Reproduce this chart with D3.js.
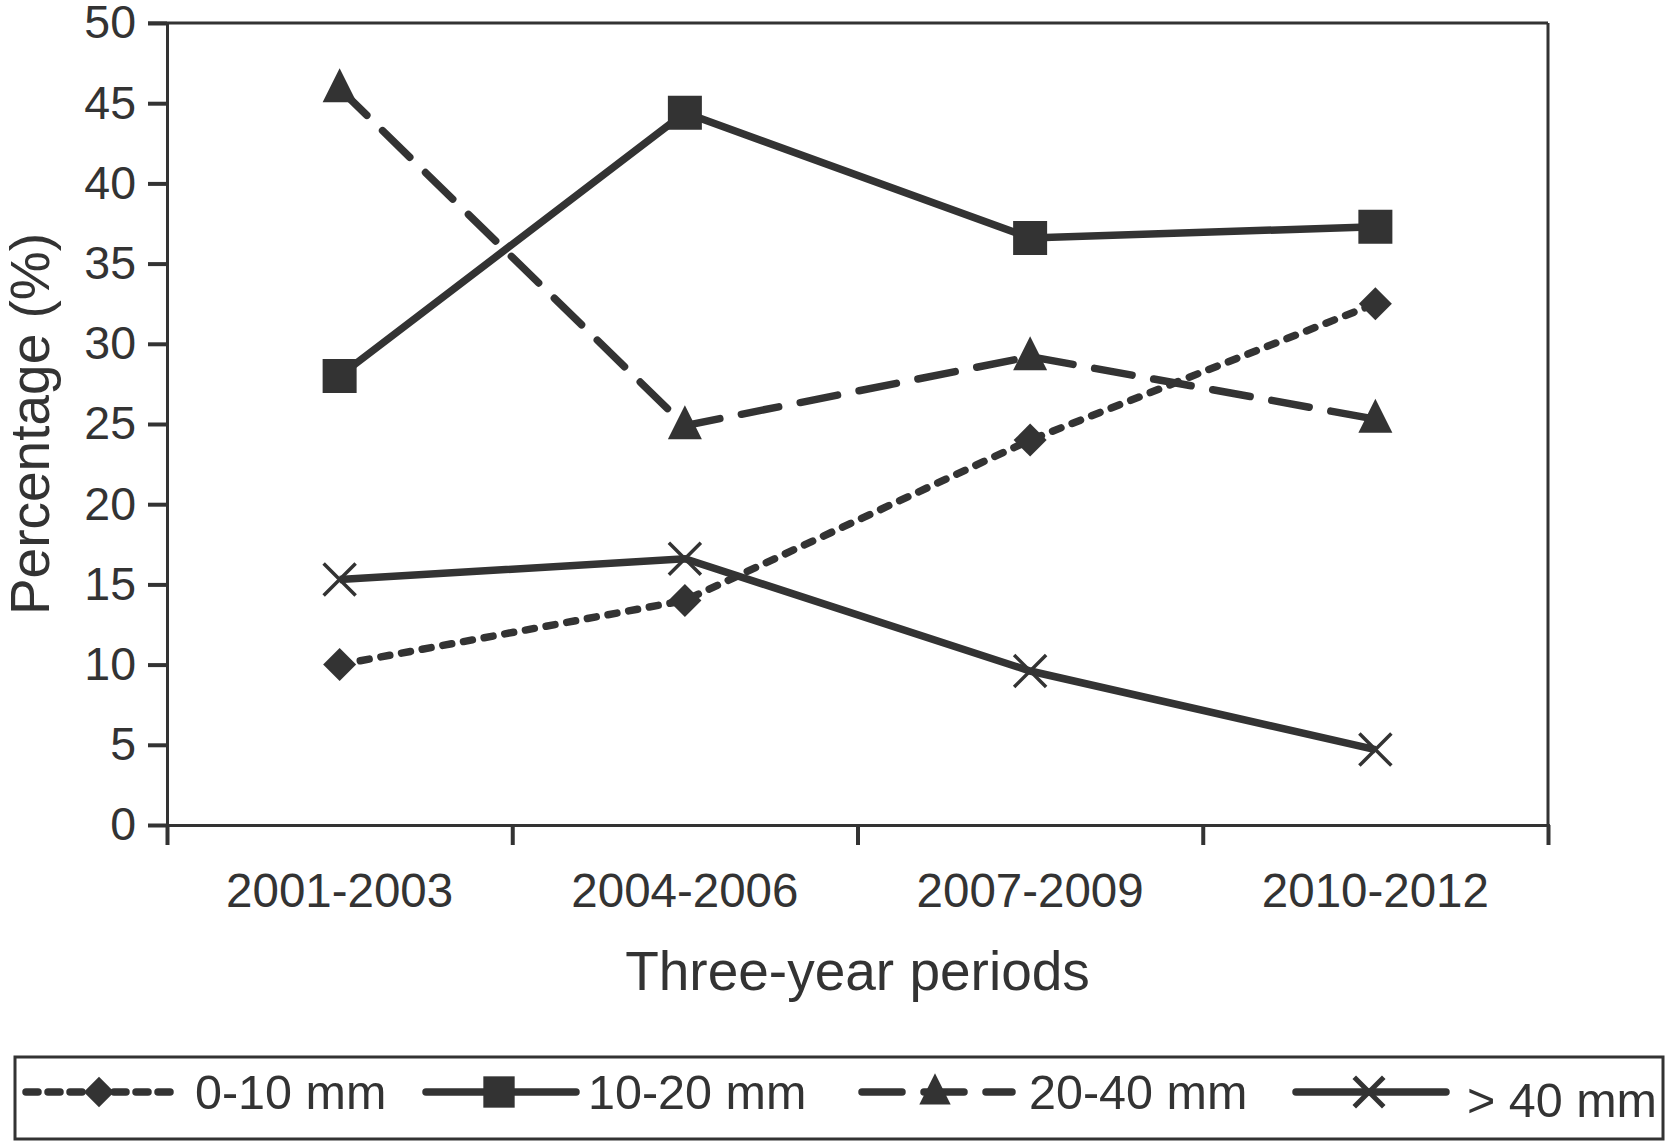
<!DOCTYPE html>
<html>
<head>
<meta charset="utf-8">
<script src="https://cdn.jsdelivr.net/npm/d3@7"></script>
<style>
  body { margin: 0; background: #fff; }
  text { font-family: "Liberation Sans", Arial, sans-serif; fill: #333; }
</style>
</head>
<body>
<svg id="chart"></svg>
<script>
// periods on the x axis
var periods = ["2001-2003", "2004-2006", "2007-2009", "2010-2012"];

// series values (%)
var mm0to10 = [10, 14, 24, 32.5];
var mm10to20 = [28, 44.4, 36.6, 37.3];
var mm20to40 = [45.9, 24.9, 29.2, 25.3];
var mmOver40 = [15.3, 16.6, 9.6, 4.7];

var seriesNames = ["0-10 mm", "10-20 mm", "20-40 mm", "> 40 mm"];
var yTicks = [0, 5, 10, 15, 20, 25, 30, 35, 40, 45, 50];

var width = 1667, height = 1142;
var ink = "#333";

var svg = d3.select("#chart")
    .attr("width", width)
    .attr("height", height);

// plot area
var plotLeft = 167, plotRight = 1548, plotTop = 23, plotBottom = 825;

var x = d3.scaleBand()
    .domain(periods)
    .range([plotLeft, plotRight]);

var y = d3.scaleLinear()
    .domain([0, 50])
    .range([plotBottom, plotTop]);

// custom marker shapes
var diamond = {
    draw: function (ctx, size) {
        var r = Math.sqrt(size) / 2;
        ctx.moveTo(0, -r); ctx.lineTo(r, 0); ctx.lineTo(0, r); ctx.lineTo(-r, 0); ctx.closePath();
    }
};
var triangle = {
    draw: function (ctx, size) {
        var h = Math.sqrt(size) / 2;
        ctx.moveTo(0, -h * 1.2); ctx.lineTo(h, h * 0.8); ctx.lineTo(-h, h * 0.8); ctx.closePath();
    }
};
var cross = {
    draw: function (ctx, size) {
        var h = Math.sqrt(size) / 2;
        ctx.moveTo(-h, -h); ctx.lineTo(h, h);
        ctx.moveTo(-h, h); ctx.lineTo(h, -h);
    }
};

var series = [
    { name: seriesNames[0], values: mm0to10, dash: "9,12", legendDash: "12,10", symbol: diamond, size: 33 * 33, filled: true },
    { name: seriesNames[1], values: mm10to20, dash: null, legendDash: null, symbol: d3.symbolSquare, size: 34 * 34, filled: true },
    { name: seriesNames[2], values: mm20to40, dash: "38,22", legendDash: "40,22", symbol: triangle, size: 34 * 34, filled: true },
    { name: seriesNames[3], values: mmOver40, dash: null, legendDash: null, symbol: cross, size: 32 * 32, filled: false }
];

// y axis
var yAxis = svg.append("g")
    .attr("transform", "translate(" + plotLeft + ",0)")
    .call(d3.axisLeft(y).tickValues(yTicks).tickSize(19).tickPadding(12));
yAxis.select(".domain").attr("stroke", ink).attr("stroke-width", 3);
yAxis.selectAll(".tick line").attr("stroke", ink).attr("stroke-width", 4);
yAxis.selectAll(".tick text")
    .style("font-size", "46.5px")
    .style("font-family", "Liberation Sans, Arial, sans-serif")
    .attr("fill", ink);

// x axis: boundary ticks
var xb = d3.scaleLinear().domain([0, periods.length]).range([plotLeft, plotRight]);
var xTickAxis = svg.append("g")
    .attr("transform", "translate(0," + plotBottom + ")")
    .call(d3.axisBottom(xb).tickValues(d3.range(periods.length + 1)).tickSize(20).tickFormat(""));
xTickAxis.select(".domain").attr("stroke", ink).attr("stroke-width", 3);
xTickAxis.selectAll(".tick line").attr("stroke", ink).attr("stroke-width", 4);

// x axis: labels
var xLabels = svg.append("g")
    .attr("transform", "translate(0," + plotBottom + ")")
    .call(d3.axisBottom(x).tickSize(0));
xLabels.select(".domain").remove();
xLabels.selectAll(".tick text")
    .attr("y", 82)
    .attr("dy", null)
    .style("font-size", "47.5px")
    .style("font-family", "Liberation Sans, Arial, sans-serif")
    .attr("fill", ink);

// top and right frame
svg.append("line")
    .attr("x1", plotLeft - 19).attr("x2", plotRight)
    .attr("y1", y(50)).attr("y2", y(50))
    .attr("stroke", ink).attr("stroke-width", 3);
svg.append("line")
    .attr("x1", plotRight).attr("x2", plotRight)
    .attr("y1", y(50)).attr("y2", y(0))
    .attr("stroke", ink).attr("stroke-width", 3);

// axis titles
svg.append("text")
    .attr("x", (plotLeft + plotRight) / 2)
    .attr("y", 990)
    .attr("text-anchor", "middle")
    .style("font-size", "55px")
    .text("Three-year periods");

svg.append("text")
    .attr("transform", "translate(49," + ((plotTop + plotBottom) / 2) + ") rotate(-90)")
    .attr("text-anchor", "middle")
    .style("font-size", "55px")
    .text("Percentage (%)");

// lines
var line = d3.line()
    .x(function (d, i) { return x(periods[i]) + x.bandwidth() / 2; })
    .y(function (d) { return y(d); });

series.forEach(function (s) {
    svg.append("path")
        .datum(s.values)
        .attr("d", line)
        .attr("fill", "none")
        .attr("stroke", ink)
        .attr("stroke-width", 7.5)
        .attr("stroke-linecap", s.dash ? "round" : "butt")
        .attr("stroke-dasharray", s.dash);
});

// markers
series.forEach(function (s) {
    svg.selectAll(null)
        .data(s.values)
        .enter()
        .append("path")
        .attr("transform", function (d, i) {
            return "translate(" + (x(periods[i]) + x.bandwidth() / 2) + "," + y(d) + ")";
        })
        .attr("d", d3.symbol().type(s.symbol).size(s.size))
        .attr("fill", s.filled ? ink : "none")
        .attr("stroke", ink)
        .attr("stroke-width", s.filled ? 0 : 3.5);
});

// legend
var legend = svg.append("g").attr("class", "legend");
legend.append("rect")
    .attr("x", 15).attr("y", 1057)
    .attr("width", 1648).attr("height", 82)
    .attr("fill", "none")
    .attr("stroke", ink)
    .attr("stroke-width", 3);

var legendX = [26, 426, 862, 1296];
var legendTextX = [195, 588, 1029, 1467];
var legendY = 1092;

series.forEach(function (s, i) {
    legend.append("line")
        .attr("x1", legendX[i]).attr("x2", legendX[i] + 150)
        .attr("y1", legendY).attr("y2", legendY)
        .attr("stroke", ink)
        .attr("stroke-width", 7.5)
        .attr("stroke-linecap", "round")
        .attr("stroke-dasharray", s.legendDash);
    legend.append("path")
        .attr("transform", "translate(" + (legendX[i] + 73) + "," + legendY + ")")
        .attr("d", d3.symbol().type(s.symbol).size(s.size * 0.85))
        .attr("fill", s.filled ? ink : "none")
        .attr("stroke", ink)
        .attr("stroke-width", s.filled ? 0 : 5);
    legend.append("text")
        .attr("x", legendTextX[i])
        .attr("y", legendY + 17 + (i === 3 ? 8 : 0))
        .style("font-size", "48.5px")
        .text(s.name);
});
</script>
</body>
</html>
